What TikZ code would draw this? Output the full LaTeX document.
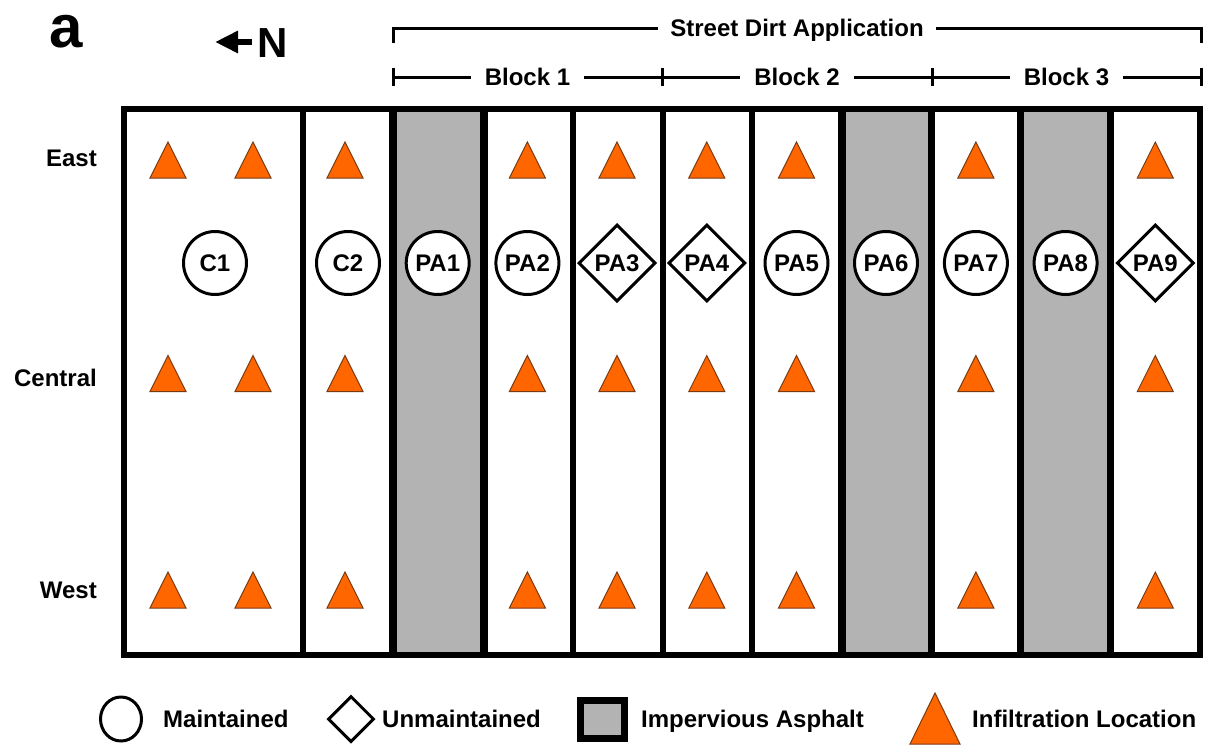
\documentclass[tikz,border=0pt]{standalone}
\usepackage{fontspec}
\setmainfont{Liberation Sans}
\usetikzlibrary{shapes.geometric,arrows.meta}
\definecolor{asphalt}{HTML}{B3B3B3}
\definecolor{infil}{HTML}{FF6600}
\definecolor{infilline}{HTML}{7A3A10}
\begin{document}
\begin{tikzpicture}[x=1pt,y=-1pt,
  lbl/.style={font=\fontsize{24}{28}\selectfont\bfseries, inner sep=0pt, text height=17.5pt, text depth=0pt},
  maint/.style={circle, draw, line width=3pt, fill=white, minimum size=63pt, lbl},
  unmaint/.style={diamond, draw, line width=3pt, fill=white, minimum width=77pt, minimum height=77pt, lbl},
  bracket/.style={line width=3pt},
  thin/.style={line width=6pt},
  thick/.style={line width=7.5pt},
  tri/.pic={\path[fill=infil, draw=infilline, line width=1pt] (-18,18) -- (0,-18) -- (18,18) -- cycle;}
]
\useasboundingbox (0,0) rectangle (1211,745);

% panel letter and north arrow
\node[font=\fontsize{60}{64}\selectfont\bfseries, inner sep=0pt] (panel) at (66,32) {a};
\node[font=\fontsize{42}{46}\selectfont\bfseries, inner sep=0pt, anchor=west] (north) at (257,43) {N};
\coordinate (ntip) at (215,42);
\draw[line width=6pt, -{Triangle[length=23pt,width=21pt]}] ([xshift=-5pt,yshift=1pt]north.west) -- (ntip);

% street dirt application bracket
\node[lbl, inner xsep=12pt] (sda) at (797,28) {Street Dirt Application};
\coordinate (s0) at (393,43);
\coordinate (s1) at (1201,43);
\draw[bracket] (s0) |- (sda.west);
\draw[bracket] (s1) |- (sda.east);

% block brackets
\coordinate (t0) at (393,77);
\coordinate (t1) at (662,77);
\coordinate (t2) at (932,77);
\coordinate (t3) at (1201,77);
\node[lbl, inner xsep=14pt] (b1) at (527.5,77) {Block 1};
\node[lbl, inner xsep=14pt] (b2) at (797,77) {Block 2};
\node[lbl, inner xsep=14pt] (b3) at (1066.5,77) {Block 3};
\draw[bracket] (t0) -- (b1.west);
\draw[bracket] (b1.east) -- (t1) -- (b2.west);
\draw[bracket] (b2.east) -- (t2) -- (b3.west);
\draw[bracket] (b3.east) -- (t3);
\foreach \t in {t0,t1,t2,t3}
  \draw[bracket] ([yshift=9pt]\t) -- ([yshift=-9pt]\t);

% asphalt strips
\fill[asphalt] (393,109) rectangle (484,655);
\fill[asphalt] (842,109) rectangle (931.5,655);
\fill[asphalt] (1020.5,109) rectangle (1110.5,655);

% dividers
\foreach \x in {303,573,663,752}
  \draw[thin] (\x,109) -- (\x,655);
\foreach \x in {393,484,842,931.5,1020.5,1110.5}
  \draw[thick] (\x,109) -- (\x,655);
\draw[thin] (123.6,109) rectangle (1200,655);

% row labels
\node[lbl, anchor=east] (east) at (97,158) {East};
\node[lbl, anchor=east] (central) at (97,378) {Central};
\node[lbl, anchor=east] (west) at (97,590) {West};

% infiltration locations
\foreach \y in {160,373.5,590}
  \foreach \x in {168,253,345,527.4,617,706.8,796.5,975.9,1155.3}
    \pic at (\x,\y) {tri};

% plots
\node[maint] (c1) at (215,263) {C1};
\node[maint] (c2) at (348,263) {C2};
\node[maint] (pa1) at (437.7,263) {PA1};
\node[maint] (pa2) at (527.4,263) {PA2};
\node[unmaint] (pa3) at (617,263) {PA3};
\node[unmaint] (pa4) at (706.8,263) {PA4};
\node[maint] (pa5) at (796.5,263) {PA5};
\node[maint] (pa6) at (886,263) {PA6};
\node[maint] (pa7) at (975.9,263) {PA7};
\node[maint] (pa8) at (1065.6,263) {PA8};
\node[unmaint] (pa9) at (1155.3,263) {PA9};

% legend
\node[ellipse, draw, line width=3pt, minimum width=41pt, minimum height=44pt, inner sep=0pt] (lm) at (121,719) {};
\node[lbl, anchor=west] (lmt) at (163,719) {Maintained};
\node[diamond, draw, line width=3pt, minimum width=46pt, minimum height=46pt, inner sep=0pt] (lu) at (351,719) {};
\node[lbl, anchor=west] (lut) at (382,719) {Unmaintained};
\node[draw, fill=asphalt, line width=7pt, minimum width=44pt, minimum height=38pt, inner sep=0pt] (la) at (602.5,719.5) {};
\node[lbl, anchor=west] (lat) at (641,719) {Impervious Asphalt};
\path[fill=infil, draw=infilline, line width=1pt] (910,744) -- (935,693) -- (960,744) -- cycle;
\node[lbl, anchor=west] (lit) at (972,719) {Infiltration Location};
\end{tikzpicture}
\end{document}
